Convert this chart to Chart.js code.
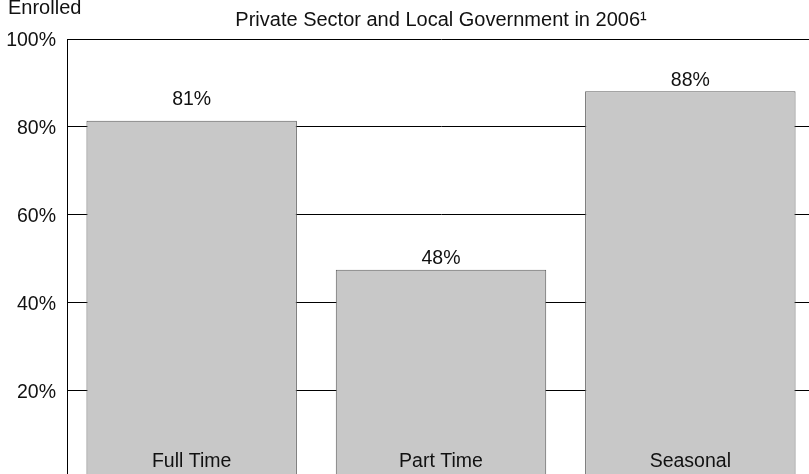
<!DOCTYPE html>
<html lang="en">
<head>
    <meta charset="UTF-8">
    <title>Private Sector and Local Government in 2006</title>
    <script src="https://cdn.jsdelivr.net/npm/chart.js"></script>
    <style>
        html, body {
            margin: 0;
            padding: 0;
            background: #fff;
            overflow: hidden;
        }
        #wrap {
            position: relative;
            width: 815px;
            height: 501px;
        }
    </style>
</head>
<body>

<div id="wrap">
    <canvas id="chart" width="815" height="501"></canvas>
</div>

<script>
    // chart values
    const categories = ["Full Time", "Part Time", "Seasonal"];
    const enrolled = [81.4, 47.5, 88.1];
    const yTicks = [20, 40, 60, 80, 100];

    const FONT = "'Liberation Sans', Arial, sans-serif";
    const TEXT = "#111";

    // draws the value above each bar, the category inside the bar and the cut-off axis title
    const barText = {
        id: "barText",
        afterDatasetsDraw(chart, args, opts) {
            const ctx = chart.ctx;
            const meta = chart.getDatasetMeta(0);
            const area = chart.chartArea;
            ctx.save();
            ctx.fillStyle = TEXT;
            ctx.font = "19.5px " + FONT;
            ctx.textAlign = "center";
            ctx.textBaseline = "alphabetic";
            meta.data.forEach((bar, i) => {
                const v = chart.data.datasets[0].data[i];
                ctx.fillText(Math.round(v) + "%", bar.x, bar.y - opts.lift[i]);
                ctx.fillText(chart.data.labels[i], bar.x, area.bottom - 11);
            });
            ctx.textAlign = "left";
            ctx.font = "20px " + FONT;
            ctx.fillText(opts.axisTitle, 8, 14);
            ctx.restore();
        }
    };

    new Chart(document.getElementById("chart"), {
        type: "bar",
        data: {
            labels: categories,
            datasets: [{
                data: enrolled,
                backgroundColor: "#c8c8c8",
                borderColor: "#5e5e5e",
                borderWidth: 1,
                borderSkipped: "bottom",
                categoryPercentage: 1,
                barPercentage: 0.844
            }]
        },
        options: {
            responsive: false,
            animation: false,
            layout: { padding: { left: 0, right: 0, top: 0, bottom: 3 } },
            plugins: {
                legend: { display: false },
                tooltip: { enabled: false },
                title: {
                    display: true,
                    fullSize: false,
                    text: "Private Sector and Local Government in 2006\u00B9",
                    color: TEXT,
                    font: { family: FONT, size: 20, weight: "normal", lineHeight: 1.2 },
                    padding: { top: 8.5, bottom: 6.5 }
                },
                barText: { lift: [16, 6, 5], axisTitle: "Enrolled" }
            },
            scales: {
                x: { display: false },
                y: {
                    min: 0,
                    max: 100,
                    afterBuildTicks(scale) {
                        scale.ticks = [0].concat(yTicks).map(v => ({ value: v }));
                    },
                    afterFit(scale) { scale.width = 67; },
                    border: { display: true, color: "#000", width: 1 },
                    grid: { color: "#000", lineWidth: 1, drawTicks: false },
                    ticks: {
                        padding: 11,
                        labelOffset: 2,
                        color: TEXT,
                        font: { family: FONT, size: 19.5 },
                        callback: v => v === 0 ? "" : v + "%"
                    }
                }
            }
        },
        plugins: [barText]
    });
</script>

</body>
</html>
